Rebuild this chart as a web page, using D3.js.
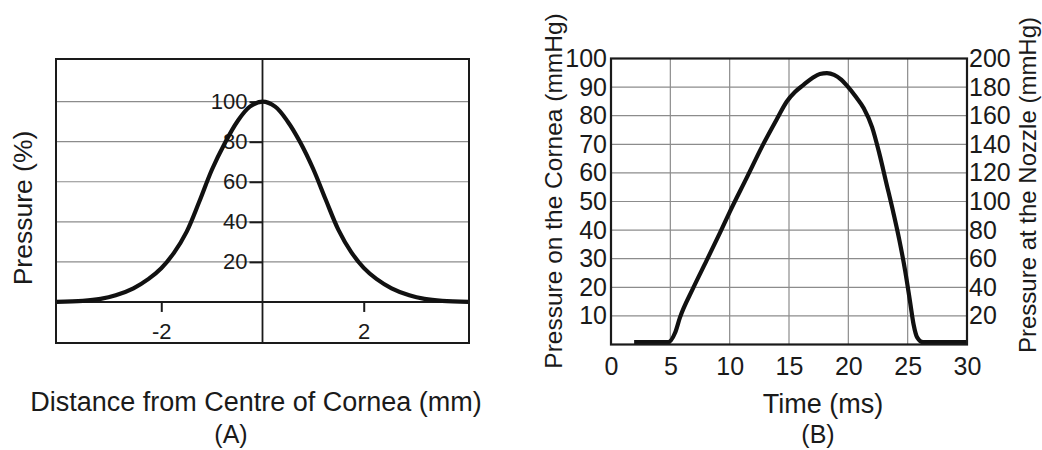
<!DOCTYPE html>
<html lang="en">
<head>
<meta charset="UTF-8">
<title>Pressure profiles - cornea and nozzle</title>
<script src="https://cdn.jsdelivr.net/npm/d3@7"></script>
<style>
body { margin: 0; background: #fff; }
svg { display: block; font-family: "Liberation Sans", Arial, sans-serif; }
</style>
</head>
<body>
<svg id="chart" width="1042" height="450"></svg>
<script>
// panel A: pressure across the cornea
const distMm = [-4.08, -3.55, -3.2, -2.9, -2.55, -2.25, -2.0, -1.75, -1.5, -1.25, -1.0, -0.75, -0.5, -0.25, 0,
    0.25, 0.5, 0.75, 1.0, 1.25, 1.5, 1.75, 2.0, 2.25, 2.55, 2.9, 3.2, 3.55, 4.08];
const pressurePct = [0, 0.5, 1.5, 3.3, 6.8, 11.5, 16.8, 24.5, 35, 50, 66, 79, 90, 97.5, 100,
    97.5, 90, 79.5, 66.5, 51, 36, 25, 17, 11.5, 6.8, 3.3, 1.5, 0.5, 0];
const distTicks = [-2, 2];
const pctTicks = [20, 40, 60, 80, 100];

// panel B: pressure over time
const timeMs = [1.95, 4.8, 5.4, 5.8, 6.9, 8.05, 9.2, 10.0, 11.4, 12.8, 14.0, 14.8, 15.5, 16.2, 17.0, 17.6,
    18.2, 18.8, 19.4, 19.9, 20.6, 21.3, 22.0, 22.6, 23.2, 23.8, 24.3, 24.8, 25.2, 25.5, 25.8, 26.3, 30];
const corneaMmHg = [0.8, 0.8, 4.1, 9.3, 19.5, 29.3, 39.2, 46.3, 58, 69.8, 79, 84.9, 88.3, 90.7, 93.3, 94.6,
    94.9, 94.3, 92.6, 90.4, 86.8, 82.6, 76, 67, 56.5, 46, 36.5, 25.5, 15, 7, 2.5, 0.8, 0.8];
const timeTicks = [0, 5, 10, 15, 20, 25, 30];
const corneaTicks = [10, 20, 30, 40, 50, 60, 70, 80, 90, 100];
const nozzleTicks = [20, 40, 60, 80, 100, 120, 140, 160, 180, 200];

const TEXT = "#1a1a1a";
const GRID = "#8c8c8c";
const svg = d3.select("#chart");

function styleAxis(g, size) {
    g.attr("font-family", null).attr("font-size", size);
    g.select(".domain").remove();
    g.selectAll("text").attr("fill", TEXT);
    g.selectAll("line").attr("stroke", TEXT).attr("stroke-width", 2);
}

// plain hyphen for negatives, like the original figure
const plain = d => String(d);

// ---------- panel A ----------
const A = {left: 56, right: 469, top: 59, bottom: 343};
const xA = d3.scaleLinear().domain([-4.08, 4.08]).range([A.left, A.right]);
const yA = d3.scaleLinear().domain([-20.5, 121.3]).range([A.bottom, A.top]);
const gA = svg.append("g");

gA.selectAll("line.grid").data(pctTicks).join("line")
    .attr("class", "grid")
    .attr("x1", A.left).attr("x2", A.right)
    .attr("y1", d => yA(d)).attr("y2", d => yA(d))
    .attr("stroke", GRID).attr("stroke-width", 1.2);

// centre line and baseline
gA.append("line")
    .attr("x1", xA(0)).attr("x2", xA(0)).attr("y1", A.top).attr("y2", A.bottom)
    .attr("stroke", TEXT).attr("stroke-width", 1.8);
gA.append("line")
    .attr("x1", A.left).attr("x2", A.right).attr("y1", yA(0)).attr("y2", yA(0))
    .attr("stroke", TEXT).attr("stroke-width", 2);

gA.append("g")
    .attr("transform", `translate(${xA(0)},0)`)
    .call(d3.axisLeft(yA).tickValues(pctTicks).tickFormat(plain).tickSize(13).tickPadding(2))
    .call(g => styleAxis(g, 22));

gA.append("g")
    .attr("transform", `translate(0,${yA(0)})`)
    .call(d3.axisBottom(xA).tickValues(distTicks).tickFormat(plain).tickSize(10).tickPadding(11))
    .call(g => styleAxis(g, 22));

gA.append("path")
    .datum(distMm.map((d, i) => [d, pressurePct[i]]))
    .attr("fill", "none")
    .attr("stroke", "#111")
    .attr("stroke-width", 4.2)
    .attr("stroke-linejoin", "round")
    .attr("d", d3.line().x(d => xA(d[0])).y(d => yA(d[1])).curve(d3.curveCatmullRom.alpha(0.5)));

gA.append("rect")
    .attr("x", A.left).attr("y", A.top)
    .attr("width", A.right - A.left).attr("height", A.bottom - A.top)
    .attr("fill", "none").attr("stroke", TEXT).attr("stroke-width", 2);

gA.append("text")
    .attr("transform", `translate(23,208) rotate(-90)`)
    .attr("text-anchor", "middle").attr("dy", "0.35em")
    .attr("font-size", 26.5).attr("fill", TEXT)
    .text("Pressure (%)");

gA.append("text")
    .attr("x", 256).attr("y", 402).attr("dy", "0.35em")
    .attr("text-anchor", "middle").attr("font-size", 27).attr("fill", TEXT)
    .text("Distance from Centre of Cornea (mm)");
gA.append("text")
    .attr("x", 231).attr("y", 434).attr("dy", "0.35em")
    .attr("text-anchor", "middle").attr("font-size", 25).attr("fill", TEXT)
    .text("(A)");

// ---------- panel B ----------
const B = {left: 611, right: 967, top: 58.5, bottom: 344.5};
const xB = d3.scaleLinear().domain([0, 30]).range([B.left, B.right]);
const yB = d3.scaleLinear().domain([0, 100]).range([B.bottom, B.top]);
const yB2 = d3.scaleLinear().domain([0, 200]).range([B.bottom, B.top]);
const gB = svg.append("g");

gB.selectAll("line.vgrid").data(timeTicks.slice(1, -1)).join("line")
    .attr("class", "vgrid")
    .attr("x1", d => xB(d)).attr("x2", d => xB(d))
    .attr("y1", B.top).attr("y2", B.bottom)
    .attr("stroke", GRID).attr("stroke-width", 1.2);
gB.selectAll("line.hgrid").data(corneaTicks.slice(0, -1)).join("line")
    .attr("class", "hgrid")
    .attr("x1", B.left).attr("x2", B.right)
    .attr("y1", d => yB(d)).attr("y2", d => yB(d))
    .attr("stroke", GRID).attr("stroke-width", 1.2);

gB.append("g")
    .attr("transform", `translate(${B.left},0)`)
    .call(d3.axisLeft(yB).tickValues(corneaTicks).tickSize(0).tickPadding(4))
    .call(g => styleAxis(g, 25));

gB.append("g")
    .attr("transform", `translate(${B.right},0)`)
    .call(d3.axisRight(yB2).tickValues(nozzleTicks).tickSize(0).tickPadding(2))
    .call(g => styleAxis(g, 25));

gB.append("g")
    .attr("transform", `translate(0,${B.bottom})`)
    .call(d3.axisBottom(xB).tickValues(timeTicks).tickSize(0).tickPadding(13))
    .call(g => styleAxis(g, 25));

gB.append("path")
    .datum(timeMs.map((d, i) => [d, corneaMmHg[i]]))
    .attr("fill", "none")
    .attr("stroke", "#111")
    .attr("stroke-width", 4.2)
    .attr("stroke-linejoin", "round")
    .attr("d", d3.line().x(d => xB(d[0])).y(d => yB(d[1])).curve(d3.curveMonotoneX));

gB.append("rect")
    .attr("x", B.left).attr("y", B.top)
    .attr("width", B.right - B.left).attr("height", B.bottom - B.top)
    .attr("fill", "none").attr("stroke", TEXT).attr("stroke-width", 2.2);

gB.append("text")
    .attr("transform", `translate(553,191) rotate(-90)`)
    .attr("text-anchor", "middle").attr("dy", "0.35em")
    .attr("font-size", 24.5).attr("fill", TEXT)
    .text("Pressure on the Cornea (mmHg)");
gB.append("text")
    .attr("transform", `translate(1027.5,185) rotate(-90)`)
    .attr("text-anchor", "middle").attr("dy", "0.35em")
    .attr("font-size", 24).attr("fill", TEXT)
    .text("Pressure at the Nozzle (mmHg)");

gB.append("text")
    .attr("x", 823).attr("y", 404).attr("dy", "0.35em")
    .attr("text-anchor", "middle").attr("font-size", 27).attr("fill", TEXT)
    .text("Time (ms)");
gB.append("text")
    .attr("x", 818).attr("y", 434).attr("dy", "0.35em")
    .attr("text-anchor", "middle").attr("font-size", 25).attr("fill", TEXT)
    .text("(B)");
</script>
</body>
</html>
